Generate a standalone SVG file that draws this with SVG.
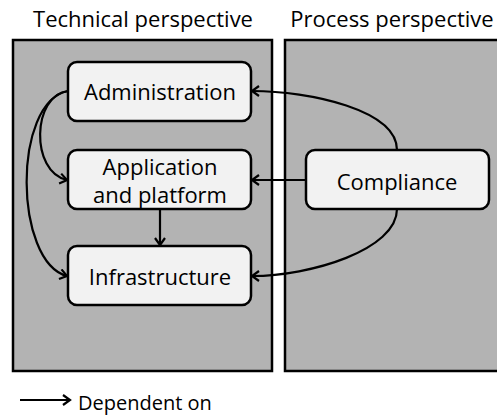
<svg xmlns="http://www.w3.org/2000/svg" width="497" height="416" viewBox="0 0 497 416">
<defs>
<style>
.panel{fill:#b3b3b3;stroke:#000;stroke-width:2.5}
.box{fill:#f2f2f2;stroke:#000;stroke-width:2.5}
.t{font-family:"Open Sans","Liberation Sans",sans-serif;font-size:22px;fill:#000;text-anchor:middle}
.c{fill:none;stroke:#000;stroke-width:2.2;marker-end:url(#ah)}
</style>
<marker id="ah" markerWidth="12" markerHeight="12" refX="9" refY="6" orient="auto" markerUnits="userSpaceOnUse">
<path d="M2,1 L9,6 L2,11" fill="none" stroke="#000" stroke-width="2.2"/>
</marker>
</defs>
<rect width="497" height="416" fill="#fff"/>
<text class="t" x="143" y="27">Technical perspective</text>
<text class="t" x="392" y="27">Process perspective</text>
<rect class="panel" x="13" y="40" width="259" height="331"/>
<rect class="panel" x="285" y="40" width="220" height="331"/>
<g id="connectors">
<path class="c" d="M397,150 C397,110 310,91 252,91"/>
<path class="c" d="M306,180 L252,180"/>
<path class="c" d="M397,209 C397,250 310,276 252,276"/>
<path class="c" d="M160,209 L160,245"/>
<path class="c" d="M68,91 C32,95 30,172 67,180"/>
<path class="c" d="M68,91 C12,102 14,262 67,276"/>
</g>
<g id="administration">
<rect class="box" x="68" y="62" width="183" height="59" rx="9"/>
<text class="t" x="160" y="100">Administration</text>
</g>
<g id="application">
<rect class="box" x="68" y="150" width="183" height="59" rx="9"/>
<text class="t" x="160" y="175">Application</text>
<text class="t" x="160" y="203">and platform</text>
</g>
<g id="infrastructure">
<rect class="box" x="68" y="246" width="183" height="59" rx="9"/>
<text class="t" x="160" y="285">Infrastructure</text>
</g>
<g id="compliance">
<rect class="box" x="306" y="150" width="183" height="59" rx="9"/>
<text class="t" x="397" y="190">Compliance</text>
</g>
<g id="legend">
<path class="c" d="M20,400 L70,400"/>
<text class="t" x="78" y="410" style="text-anchor:start;font-size:20px">Dependent on</text>
</g>
</svg>
